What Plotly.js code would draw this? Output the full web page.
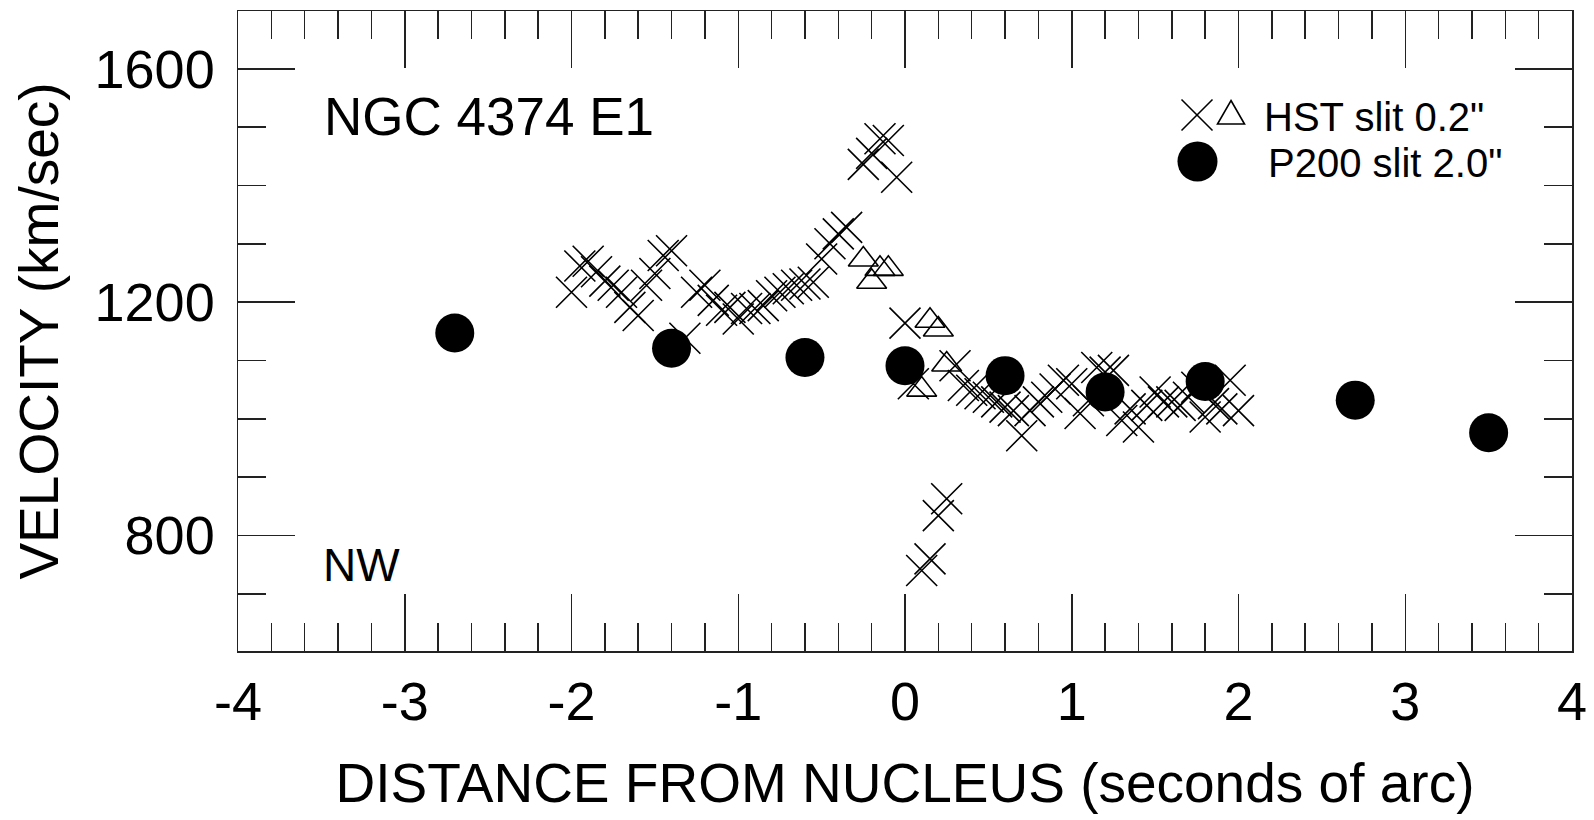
<!DOCTYPE html>
<html>
<head>
<meta charset="utf-8">
<script src="https://cdn.plot.ly/plotly-3.0.1.min.js"></script>
<style>html,body{margin:0;padding:0;background:#fff;}#chart{width:1594px;height:820px;}</style>
</head>
<body>
<div id="chart"></div>
<script>
// HST slit 0.2" : crosses (main component)
var hstX = [-2.00,-1.95,-1.90,-1.85,-1.80,-1.75,-1.70,-1.65,-1.60,-1.55,
            -1.50,-1.45,-1.40,-1.32,-1.25,-1.20,-1.15,-1.10,-1.05,-1.00,
            -0.95,-0.90,-0.85,-0.80,-0.75,-0.70,-0.65,-0.60,-0.55,-0.50,
            -0.45,-0.40,-0.35,
            -0.25,-0.20,-0.15,-0.10,-0.05,0.00,0.05,0.10,0.15,0.20,
            0.25,0.30,0.35,0.40,0.45,0.50,0.55,0.60,0.65,0.70,
            0.75,0.80,0.85,0.90,0.95,1.00,1.05,1.10,1.15,1.20,
            1.25,1.30,1.35,1.40,1.45,1.50,1.55,1.60,1.65,1.70,
            1.75,1.80,1.85,1.90,1.95,2.00];
var hstV = [1217,1262,1270,1252,1236,1229,1217,1191,1177,1229,
            1249,1280,1288,1138,1217,1229,1203,1186,1191,1171,
            1189,1189,1194,1211,1217,1223,1229,1231,1234,1274,
            1300,1317,1328,
            1436,1455,1480,1477,1414,1164,1060,740,760,834,
            863,1091,1057,1049,1043,1037,1029,1020,1014,971,
            1014,1029,1037,1051,1066,1060,1009,1031,1088,1080,
            1083,997,1017,986,1023,1046,1029,1029,1023,1037,
            1054,1003,1026,1017,1066,1014];
// HST slit 0.2" : triangles (second component)
var triX = [-0.25,-0.20,-0.15,-0.10,0.10,0.15,0.20,0.25];
var triV = [1273,1235,1257,1257,1050,1168,1153,1093];
// P200 slit 2.0" : filled circles
var p200X = [-2.70,-1.40,-0.60,0.00,0.60,1.20,1.80,2.70,3.50];
var p200V = [1147,1121,1105,1091,1074,1046,1064,1032,976];
// tick labels
var xTickVals = [-4,-3,-2,-1,0,1,2,3,4];
var xTickText = ["-4","-3","-2","-1","0","1","2","3","4"];
var yTickVals = [800,1200,1600];
var yTickText = ["800","1200","1600"];

var W = 1594, H = 820;
var M = {l:238, r:22, t:11, b:169};
var PW = W - M.l - M.r, PH = H - M.t - M.b;
function px(x){ return (x - M.l) / PW; }
function py(y){ return (H - M.b - y) / PH; }

var FONT = '"Liberation Sans", Arial, Helvetica, sans-serif';
var INK = '#000';
var AX = '#222';

var traces = [
  {type:'scatter', mode:'markers', x:hstX, y:hstV, showlegend:false, cliponaxis:false,
   marker:{symbol:'x-thin-open', size:31, line:{width:1.6, color:INK}, color:INK}},
  {type:'scatter', mode:'markers', x:triX, y:triV, showlegend:false, cliponaxis:false,
   marker:{symbol:'triangle-up-open', size:26, line:{width:1.6, color:INK}, color:INK}},
  {type:'scatter', mode:'markers', x:p200X, y:p200V, showlegend:false, cliponaxis:false,
   marker:{symbol:'circle', size:39, color:INK, line:{width:0}}}
];

// legend key geometry (pixels)
var cx = 1197, cy = 115, ch = 15.5;
var tx = 1231, tyTop = 100.5, tyBot = 124, thw = 13.5;
var ox = 1197.5, oy = 161.5, orr = 20;

var layout = {
  width: W, height: H,
  margin: M,
  paper_bgcolor:'#fff', plot_bgcolor:'#fff',
  showlegend:false,
  font:{family:FONT, color:INK},
  xaxis:{
    range:[-4,4], showgrid:false, zeroline:false,
    showline:true, linecolor:AX, linewidth:1.5, mirror:'ticks',
    ticks:'inside', ticklen:57, tickwidth:1.5, tickcolor:AX,
    tickmode:'array', tickvals:xTickVals, ticktext:xTickText,
    tickfont:{size:54, family:FONT, color:INK},
    ticklabelstandoff: 3,
    minor:{dtick:0.2, tick0:0, ticks:'inside', ticklen:28, tickwidth:1.5, tickcolor:AX, showgrid:false},
    title:{text:'DISTANCE FROM NUCLEUS (seconds of arc)', font:{size:55, family:FONT, color:INK}, standoff:33},
    automargin:false
  },
  yaxis:{
    range:[602,1699], showgrid:false, zeroline:false,
    showline:true, linecolor:AX, linewidth:1.5, mirror:'ticks',
    ticks:'inside', ticklen:57, tickwidth:1.5, tickcolor:AX,
    tickmode:'array', tickvals:yTickVals, ticktext:yTickText,
    tickfont:{size:54, family:FONT, color:INK},
    ticklabelstandoff: 11,
    minor:{dtick:100, tick0:0, ticks:'inside', ticklen:28, tickwidth:1.5, tickcolor:AX, showgrid:false},
    title:{text:'VELOCITY (km/sec)', font:{size:55, family:FONT, color:INK}, standoff:18},
    automargin:false
  },
  annotations:[
    {xref:'paper', yref:'paper', x:px(322), y:py(116), xanchor:'left', yanchor:'middle',
     text:'NGC 4374 E1', showarrow:false, font:{size:53, family:FONT, color:INK}},
    {xref:'paper', yref:'paper', x:px(321), y:py(565), xanchor:'left', yanchor:'middle',
     text:'NW', showarrow:false, font:{size:46, family:FONT, color:INK}},
    {xref:'paper', yref:'paper', x:px(1262), y:py(117), xanchor:'left', yanchor:'middle',
     text:'HST slit 0.2"', showarrow:false, font:{size:40, family:FONT, color:INK}},
    {xref:'paper', yref:'paper', x:px(1266), y:py(163), xanchor:'left', yanchor:'middle',
     text:'P200 slit 2.0"', showarrow:false, font:{size:40, family:FONT, color:INK}}
  ],
  shapes:[
    {type:'line', xref:'paper', yref:'paper', x0:px(cx-ch), y0:py(cy-ch), x1:px(cx+ch), y1:py(cy+ch), line:{color:INK, width:1.6}},
    {type:'line', xref:'paper', yref:'paper', x0:px(cx-ch), y0:py(cy+ch), x1:px(cx+ch), y1:py(cy-ch), line:{color:INK, width:1.6}},
    {type:'path', xref:'paper', yref:'paper',
     path:'M'+px(tx)+','+py(tyTop)+' L'+px(tx+thw)+','+py(tyBot)+' L'+px(tx-thw)+','+py(tyBot)+' Z',
     line:{color:INK, width:1.6}, fillcolor:'rgba(0,0,0,0)'},
    {type:'circle', xref:'paper', yref:'paper', x0:px(ox-orr), y0:py(oy-orr), x1:px(ox+orr), y1:py(oy+orr),
     fillcolor:INK, line:{color:INK, width:0}}
  ]
};

Plotly.newPlot('chart', traces, layout, {displayModeBar:false, staticPlot:true});
</script>
</body>
</html>
